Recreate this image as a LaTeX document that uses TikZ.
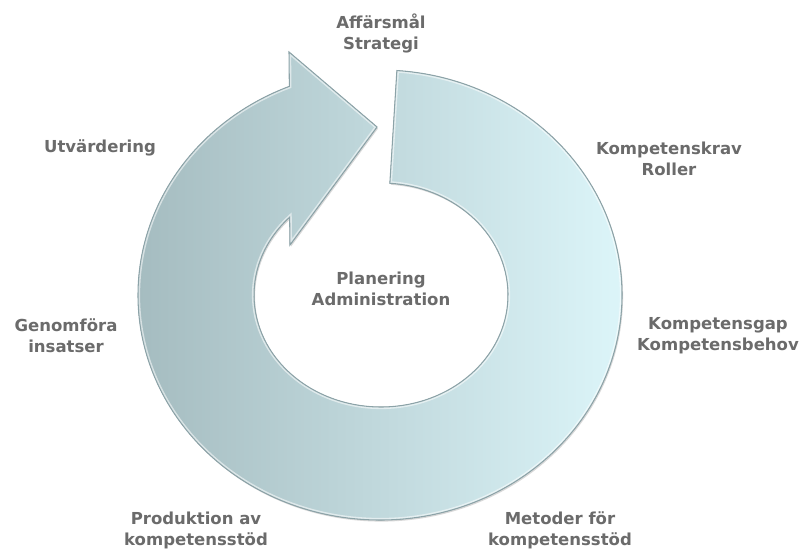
\documentclass[tikz,border=0pt]{standalone}
\usepackage{fontspec}
\usetikzlibrary{calc,shadows}
\newfontfamily\labelfont{DejaVu Sans}
\definecolor{ringleft}{HTML}{A4BBBF}
\definecolor{ringright}{HTML}{DDF6FA}
\definecolor{ringedge}{HTML}{8CA3A8}
\definecolor{lblgray}{HTML}{6B6B6B}
\tikzset{
  lbl/.style={font=\labelfont\bfseries\fontsize{9.4}{11.9}\selectfont,
    text=lblgray, align=center, inner sep=0pt},
  ringfill/.style={left color=ringleft, right color=ringright},
}
% outline of the circular arrow
\newcommand{\ringpath}{
  ($(380,256)+(86:242 and 225)$)
  arc[start angle=86, end angle=-248, x radius=242, y radius=225]
  -- (289,499) -- (377,424) -- (290,306)
  -- ($(381,256)+(136:127 and 112)$)
  arc[start angle=136, end angle=446, x radius=127, y radius=112]
  -- cycle}
\begin{document}
\begin{tikzpicture}[x=0.02cm, y=0.02cm]
  \fill[white] (0,0) rectangle (807,551);
  \useasboundingbox (0,0) rectangle (807,551);

  \fill[ringfill, drop shadow={shadow xshift=0.6pt, shadow yshift=-0.9pt, opacity=0.3}] \ringpath;
  \begin{scope}
    \clip \ringpath;
    \draw[white, line width=2.4pt, opacity=0.55] \ringpath;
  \end{scope}
  \draw[ringedge, line width=0.6pt, line join=miter] \ringpath;

  \node[lbl] (affarsmal) at (381,517.5) {Affärsmål\\Strategi};
  \node[lbl] (kompetenskrav) at (669,392.5) {Kompetenskrav\\Roller};
  \node[lbl] (kompetensgap) at (718,215.5) {Kompetensgap\\Kompetensbehov};
  \node[lbl] (metoder) at (560,20.5) {Metoder för\\kompetensstöd};
  \node[lbl] (produktion) at (196,20.5) {Produktion av\\kompetensstöd};
  \node[lbl] (genomfora) at (66,215.5) {Genomföra\\insatser};
  \node[lbl] (utvardering) at (100,403) {Utvärdering};
  \node[lbl] (planering) at (381,262) {Planering\\Administration};
\end{tikzpicture}
\end{document}
